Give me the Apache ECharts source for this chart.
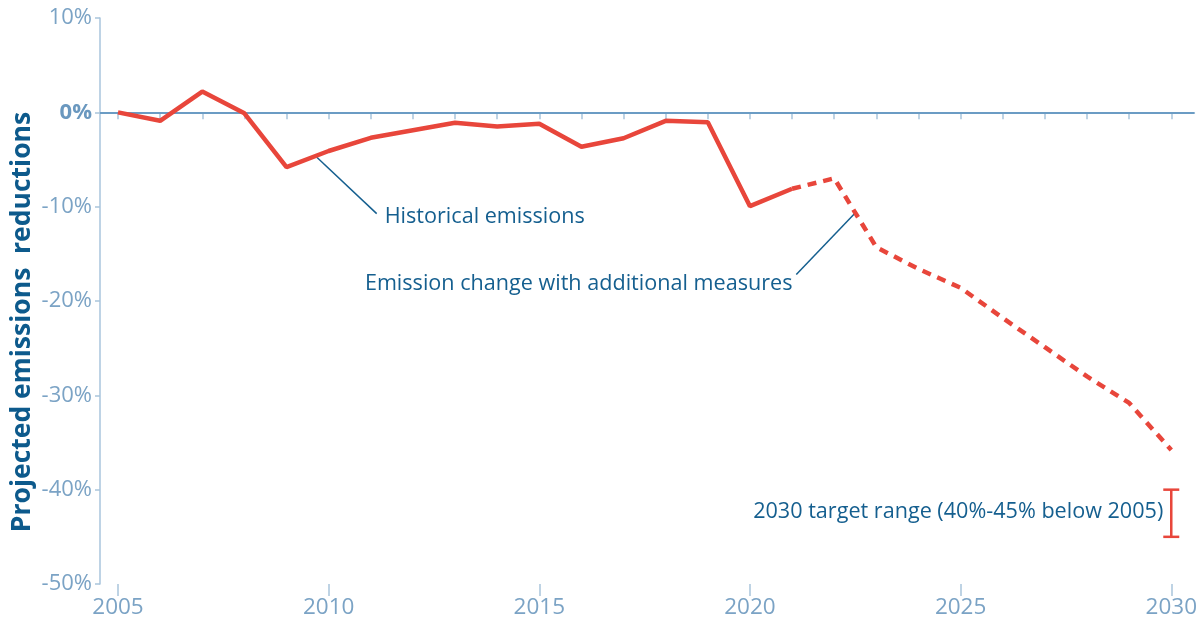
<!DOCTYPE html>
<html><head><meta charset="utf-8">
<script src="https://cdn.jsdelivr.net/npm/echarts@6/dist/echarts.min.js"></script>
<style>html,body{margin:0;padding:0;background:#fff}#c{width:1200px;height:625px}</style>
</head><body><div id="c"></div>
<script>
const histYears = [2005,2006,2007,2008,2009,2010,2011,2012,2013,2014,2015,2016,2017,2018,2019,2020,2021];
const histValues = [0,-0.9,2.2,-0.1,-5.8,-4.1,-2.7,-1.9,-1.1,-1.5,-1.2,-3.65,-2.75,-0.9,-1.05,-9.95,-8.1];
const projYears = [2021,2022,2023,2024,2025,2026,2027,2028,2029,2030];
const projValues = [-8.1,-7.0,-14.3,-16.6,-18.6,-21.8,-24.9,-28.0,-30.8,-35.8];
const targetYear = 2030;
const targetRange = [-40, -45];
const majorYears = [2005,2010,2015,2020,2025,2030];
const allYears = [];
for (let y = 2005; y <= 2030; y++) allYears.push(y);
const yTitle = 'Projected emissions  reductions';
const histLabel = 'Historical emissions';
const projLabel = 'Emission change with additional measures';
const targetLabel = '2030 target range (40%-45% below 2005)';

const FONT = '"Open Sans", "Noto Sans", sans-serif';
const AXIS = '#a9c5dc';
const LAB = '#7ba3c5';
const RED = '#e8463b';
const DARK = '#155f8f';
const XMIN = 2004.573, XMAX = 2030.55;

const chart = echarts.init(document.getElementById('c'));
const option = {
  animation: false,
  textStyle: {fontFamily: FONT},
  grid: {left: 100, right: 5, top: 18, bottom: 41, containLabel: false},
  xAxis: [
    {type: 'value', min: XMIN, max: XMAX, position: 'bottom',
     axisLine: {show: true, lineStyle: {color: AXIS, width: 1.5}},
     axisTick: {show: true, customValues: allYears, length: 7, lineStyle: {color: AXIS, width: 1.5}},
     axisLabel: {show: false}, splitLine: {show: false}},
    {type: 'value', min: XMIN, max: XMAX, position: 'bottom',
     axisLine: {show: false},
     axisTick: {show: true, customValues: majorYears, length: 12, lineStyle: {color: AXIS, width: 1.5}},
     axisLabel: {show: true, customValues: majorYears, formatter: v => String(v), color: LAB, fontSize: 22.5, margin: 12, fontFamily: FONT},
     splitLine: {show: false}}
  ],
  yAxis: {type: 'value', min: -50, max: 10, interval: 10,
    axisLine: {show: true, lineStyle: {color: AXIS, width: 1.5}},
    axisTick: {show: true, length: 5, lineStyle: {color: AXIS, width: 1.5}},
    splitLine: {show: false},
    axisLabel: {margin: 8, color: LAB, fontSize: 22, fontFamily: FONT,
      formatter: v => v === 0 ? '{b|0%}' : v + '%',
      rich: {b: {fontWeight: 'bold', color: '#6a98bf', fontSize: 22, fontFamily: FONT}}}
  },
  series: [
    {type: 'line', name: 'hist', data: histYears.map((y, i) => [y, histValues[i]]),
     symbol: 'none', lineStyle: {color: RED, width: 4.5}, z: 5,
     markLine: {silent: true, symbol: 'none', label: {show: false},
       data: [
         {yAxis: 0, lineStyle: {color: '#6b9cc4', width: 2, type: 'solid'}},
         [{coord: [2009.7, -4.68], lineStyle: {color: DARK, width: 1.5, type: 'solid'}}, {coord: [2011.14, -10.74]}],
         [{coord: [2021.1, -17.2], lineStyle: {color: DARK, width: 1.5, type: 'solid'}}, {coord: [2022.48, -10.74]}]
       ]}},
    {type: 'line', name: 'proj', data: projYears.map((y, i) => [y, projValues[i]]),
     symbol: 'none', lineStyle: {color: RED, width: 4.5, type: [9, 7]}, z: 5},
    {type: 'custom', name: 'target', data: [[targetYear, targetRange[0], targetRange[1]]],
     renderItem: (params, api) => {
       const a = api.coord([api.value(0), api.value(1)]);
       const b = api.coord([api.value(0), api.value(2)]);
       const w = 8;
       const st = {stroke: RED, lineWidth: 2.5};
       return {type: 'group', children: [
         {type: 'line', shape: {x1: a[0], y1: a[1], x2: b[0], y2: b[1]}, style: st},
         {type: 'line', shape: {x1: a[0]-w, y1: a[1], x2: a[0]+w, y2: a[1]}, style: st},
         {type: 'line', shape: {x1: b[0]-w, y1: b[1], x2: b[0]+w, y2: b[1]}, style: st}
       ]};
     }}
  ]
};
chart.setOption(option);
function px(x, y) { return chart.convertToPixel({xAxisIndex: 0, yAxisIndex: 0}, [x, y]); }
const p1 = px(2011.33, -11.1), p2 = px(2010.86, -18.2), p3 = px(2029.81, -42.4);
chart.setOption({graphic: [
  {type: 'text', x: 22, y: 322, rotation: Math.PI / 2,
   style: {text: yTitle, fill: '#0d5a8c', font: 'bold 26.5px ' + FONT, align: 'center', verticalAlign: 'middle'}},
  {type: 'text', x: p1[0], y: p1[1], style: {text: histLabel, fill: DARK, font: '21.6px ' + FONT, align: 'left', verticalAlign: 'middle'}},
  {type: 'text', x: p2[0], y: p2[1], style: {text: projLabel, fill: DARK, font: '21.6px ' + FONT, align: 'left', verticalAlign: 'middle'}},
  {type: 'text', x: p3[0], y: p3[1], style: {text: targetLabel, fill: DARK, font: '21.6px ' + FONT, align: 'right', verticalAlign: 'middle'}}
]});
</script></body></html>
